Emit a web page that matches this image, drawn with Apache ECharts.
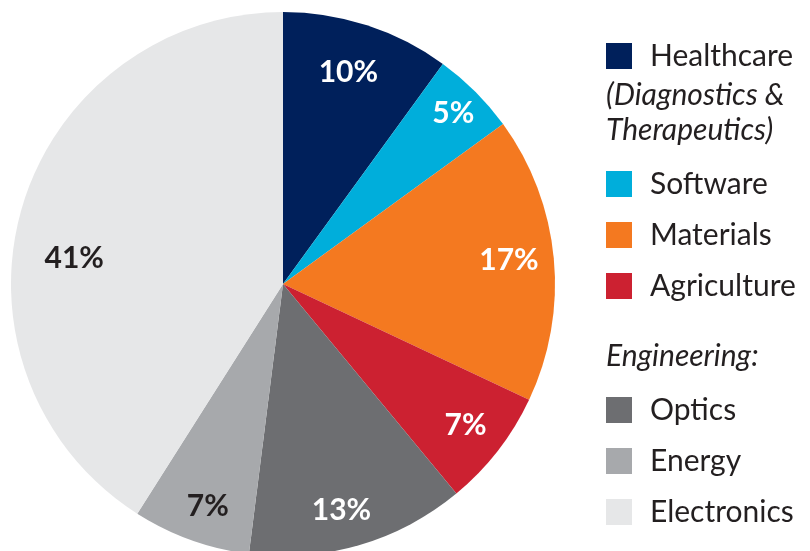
<!DOCTYPE html>
<html>
<head>
<meta charset="utf-8">
<script src="https://cdn.jsdelivr.net/npm/echarts@6/dist/echarts.min.js"></script>
<style>html,body{margin:0;padding:0;background:#fff;}#c{width:810px;height:551px;}</style>
</head>
<body>
<div id="c"></div>
<script>
const categories = ['Healthcare', 'Software', 'Materials', 'Agriculture', 'Optics', 'Energy', 'Electronics'];
const values = [10, 5, 17, 7, 13, 7, 41];
const colors = ['#00205b', '#00aedb', '#f47920', '#cc2131', '#6d6e71', '#a7a9ac', '#e6e7e8'];
const labelColors = ['#ffffff', '#ffffff', '#ffffff', '#ffffff', '#ffffff', '#231f20', '#231f20'];
const groupA = ['Healthcare'];
const groupB = ['Software', 'Materials', 'Agriculture'];
const groupC = ['Optics', 'Energy', 'Electronics'];

const FONT = 'Lato, "Open Sans", sans-serif';
const textColor = '#231f20';

// small hand nudges of the percentage labels, as in the original artwork
const labelNudge = { Healthcare: [-6, 8], Software: [7, -7], Materials: [-4, -2], Optics: [-6, 5], Energy: [3, 5], Electronics: [13, 39] };

const pieData = categories.map((c, i) => ({ name: c, value: values[i], itemStyle: { color: colors[i] } }));
const labelData = categories.map((c, i) => ({
  name: c, value: values[i],
  itemStyle: { color: 'rgba(0,0,0,0)' },
  label: { color: labelColors[i], offset: labelNudge[c] || [0, 0] }
}));

function legend(data, top) {
  return {
    data: data, orient: 'vertical', left: 606, top: top, padding: 0,
    icon: 'rect', itemWidth: 26, itemHeight: 26, itemGap: 21,
    selectedMode: false,
    textStyle: { fontFamily: FONT, fontSize: 30, fontWeight: 'normal', color: textColor, padding: [0, 0, 0, 13] }
  };
}

const chart = echarts.init(document.getElementById('c'), null, { renderer: 'canvas' });
chart.setOption({
  animation: false,
  legend: [legend(groupA, 41), legend(groupB, 169), legend(groupC, 395)],
  graphic: [
    { type: 'text', left: 606, top: 78, style: { text: '(Diagnostics &\nTherapeutics)', fontFamily: FONT, fontSize: 30, fontStyle: 'italic', fontWeight: 'normal', fill: textColor, lineHeight: 35 } },
    { type: 'text', left: 606, top: 341, style: { text: 'Engineering:', fontFamily: FONT, fontSize: 30, fontStyle: 'italic', fontWeight: 'normal', fill: textColor } }
  ],
  series: [
    {
      type: 'pie', center: [283, 284], radius: [0, 272], startAngle: 90, clockwise: true,
      silent: true, label: { show: false }, labelLine: { show: false },
      data: pieData
    },
    {
      type: 'pie', center: [283, 284], radius: [184, 272], startAngle: 90, clockwise: true,
      silent: true, labelLine: { show: false },
      label: { show: true, position: 'inside', formatter: '{c}%', fontFamily: FONT, fontSize: 30, fontWeight: 'bold' },
      data: labelData
    }
  ]
});
</script>
</body>
</html>
